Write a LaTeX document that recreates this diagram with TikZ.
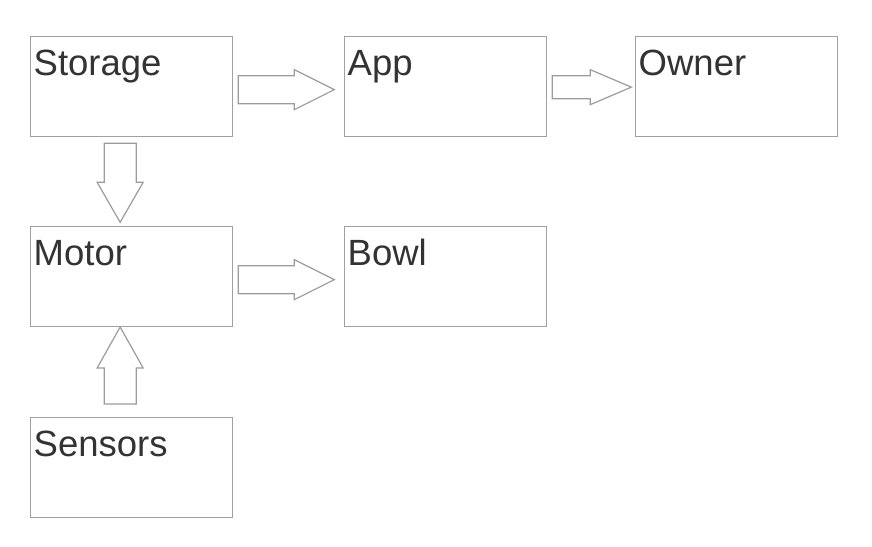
\documentclass[tikz,border=0pt]{standalone}
\usepackage{fontspec}
\setmainfont{Liberation Sans}
\usetikzlibrary{calc}
\definecolor{boxline}{HTML}{A0A0A0}
\definecolor{arrline}{HTML}{9C9C9C}
\definecolor{txt}{HTML}{333333}
\tikzset{
  box/.style={draw=boxline, line width=1.3pt, minimum width=202pt, minimum height=100pt, inner sep=0pt, anchor=north west, fill=white},
  lbl/.style={text=txt, inner sep=0pt, anchor=base west, font=\fontsize{36.5}{40}\selectfont},
  barrow/.style={draw=arrline, line width=1.2pt, fill=white, line join=miter}
}
\begin{document}
\begin{tikzpicture}[x=1pt,y=-1pt]
\useasboundingbox[fill=white] (0,0) rectangle (872,546);
\node[box] (storage) at (30,36) {};
\node[box] (app) at (344,36) {};
\node[box] (owner) at (635,36) {};
\node[box] (motor) at (30,226) {};
\node[box] (bowl) at (344,226) {};
\node[box] (sensors) at (30,416.5) {};
\node[lbl] (tstorage) at ($(storage.north west)+(3.5,39.5)$) {Storage};
\node[lbl] (tapp) at ($(app.north west)+(3.5,39.5)$) {App};
\node[lbl] (towner) at ($(owner.north west)+(3.5,39.5)$) {Owner};
\node[lbl] (tmotor) at ($(motor.north west)+(3.5,39.5)$) {Motor};
\node[lbl] (tbowl) at ($(bowl.north west)+(3.5,39.5)$) {Bowl};
\node[lbl] (tsensors) at ($(sensors.north west)+(3.5,39.5)$) {Sensors};
% Storage -> App
\draw[barrow] ($(storage.east)+(5,3)$) ++(0,-14) -- ++(56,0) -- ++(0,-6) -- ++(40,20) -- ++(-40,20) -- ++(0,-6) -- ++(-56,0) -- cycle;
% App -> Owner
\draw[barrow] ($(app.east)+(5,0.5)$) ++(0,-11.5) -- ++(38,0) -- ++(0,-6) -- ++(41,17.5) -- ++(-41,17.5) -- ++(0,-6) -- ++(-38,0) -- cycle;
% Motor -> Bowl
\draw[barrow] ($(motor.east)+(5,3)$) ++(0,-14) -- ++(56,0) -- ++(0,-6) -- ++(40,20) -- ++(-40,20) -- ++(0,-6) -- ++(-56,0) -- cycle;
% Storage -> Motor
\draw[barrow] ($(storage.south)+(-11.5,6)$) ++(-16,0) -- ++(32,0) -- ++(0,39) -- ++(7,0) -- ++(-23,40) -- ++(-23,-40) -- ++(7,0) -- cycle;
% Sensors -> Motor
\draw[barrow] ($(sensors.north)+(-11.5,-12.5)$) ++(-16,0) -- ++(32,0) -- ++(0,-36) -- ++(7,0) -- ++(-23,-41) -- ++(-23,41) -- ++(7,0) -- cycle;
\end{tikzpicture}
\end{document}
